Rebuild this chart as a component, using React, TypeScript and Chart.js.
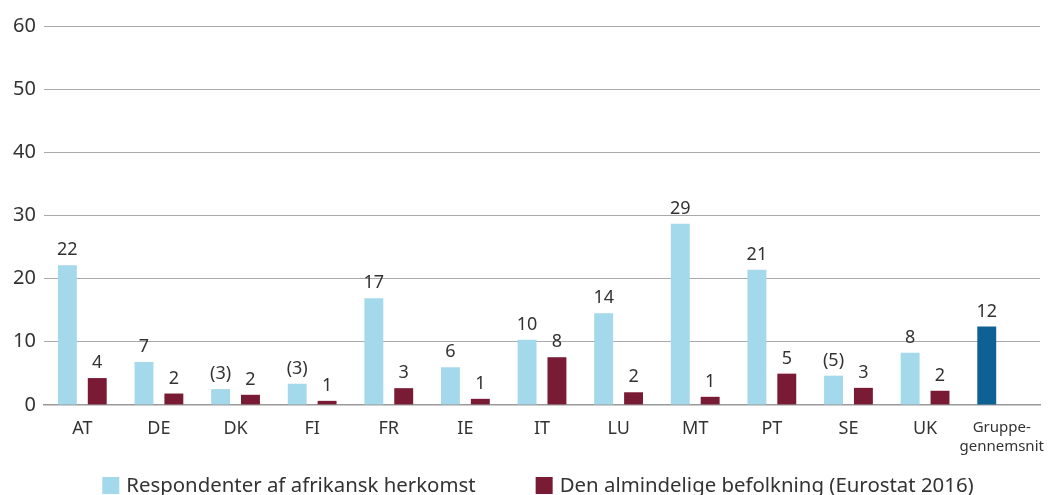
import React, { useEffect, useRef } from "react";
import { Chart, registerables } from "chart.js";

Chart.register(...registerables);

const categories: (string | string[])[] = ["AT", "DE", "DK", "FI", "FR", "IE", "IT", "LU", "MT", "PT", "SE", "UK", ["Gruppe-", "gennemsnit"]];
const africanValues = [22.1, 6.8, 2.5, 3.35, 16.9, 5.96, 10.3, 14.5, 28.7, 21.4, 4.63, 8.25, 12.4];
const africanLabels = ["22", "7", "(3)", "(3)", "17", "6", "10", "14", "29", "21", "(5)", "8", "12"];
const generalValues = [4.25, 1.8, 1.6, 0.64, 2.65, 0.96, 7.55, 2.0, 1.28, 4.95, 2.7, 2.24, null];
const generalLabels = ["4", "2", "2", "1", "3", "1", "8", "2", "1", "5", "3", "2", ""];
const seriesNames = ["Respondenter af afrikansk herkomst", "Den almindelige befolkning (Eurostat 2016)"];
const yTicks = [0, 10, 20, 30, 40, 50, 60];

const LIGHT_BLUE = "#a4d8eb";
const DARK_RED = "#7a1b35";
const DARK_BLUE = "#0d6193";
const TEXT = "#333";
const FONT = "'Noto Sans', 'Open Sans', sans-serif";
const legendColors = [LIGHT_BLUE, DARK_RED];

const valueLabelPlugin = {
  id: "valueLabels",
  afterDatasetsDraw(chart: any) {
    const ctx = chart.ctx;
    const labelSets = [africanLabels, generalLabels];
    ctx.save();
    ctx.font = `18px ${FONT}`;
    ctx.fillStyle = TEXT;
    ctx.textAlign = "center";
    ctx.textBaseline = "alphabetic";
    chart.data.datasets.forEach((ds: any, di: number) => {
      const meta = chart.getDatasetMeta(di);
      meta.data.forEach((bar: any, i: number) => {
        const txt = labelSets[di][i];
        if (!txt || ds.data[i] == null) return;
        ctx.fillText(txt, bar.x, bar.y - 10);
      });
    });
    ctx.restore();
  },
};

const bottomLegendPlugin = {
  id: "bottomLegend",
  afterDraw(chart: any) {
    const ctx = chart.ctx;
    const box = 17;
    const gapText = 7;
    const gapItems = 60;
    ctx.save();
    ctx.font = `20.4px ${FONT}`;
    const names = chart.data.datasets.map((d: any) => d.label as string);
    const widths = names.map((n: string) => ctx.measureText(n).width);
    const total = widths.reduce((a: number, w: number) => a + box + gapText + w, 0) + gapItems * (names.length - 1);
    const center = 538;
    let x = center - total / 2;
    const boxTop = 477;
    names.forEach((n: string, i: number) => {
      ctx.fillStyle = legendColors[i];
      ctx.fillRect(x, boxTop, box, box);
      ctx.fillStyle = TEXT;
      ctx.textAlign = "left";
      ctx.textBaseline = "alphabetic";
      ctx.fillText(n, x + box + gapText, boxTop + 14.5);
      x += box + gapText + widths[i] + gapItems;
    });
    ctx.restore();
  },
};

export default function App() {
  const canvasRef = useRef<HTMLCanvasElement | null>(null);

  useEffect(() => {
    if (!canvasRef.current) return;
    const blueColors = africanValues.map((_, i) => (i === africanValues.length - 1 ? DARK_BLUE : LIGHT_BLUE));
    const chart = new Chart(canvasRef.current, {
      type: "bar",
      data: {
        labels: categories,
        datasets: [
          {
            label: seriesNames[0],
            data: africanValues,
            backgroundColor: blueColors,
            categoryPercentage: 0.78,
            barPercentage: 0.633,
          },
          {
            label: seriesNames[1],
            data: generalValues,
            backgroundColor: DARK_RED,
            categoryPercentage: 0.78,
            barPercentage: 0.633,
          },
        ],
      },
      plugins: [valueLabelPlugin, bottomLegendPlugin],
      options: {
        responsive: false,
        animation: false,
        maintainAspectRatio: false,
        layout: { padding: { left: 8, right: 9, top: 26, bottom: 26 } },
        plugins: {
          tooltip: { enabled: false },
          legend: { display: false },
        },
        scales: {
          x: {
            grid: { display: false, drawTicks: false },
            border: { display: true, color: "#999", width: 1.5 },
            ticks: {
              color: TEXT,
              padding: 13,
              maxRotation: 0,
              autoSkip: false,
              font: (c: any) =>
                c.index === categories.length - 1
                  ? { family: FONT, size: 15, lineHeight: 1.27 }
                  : { family: FONT, size: 18 },
            },
            afterFit: (axis: any) => {
              axis.paddingRight = 0;
              axis.paddingLeft = 0;
            },
          },
          y: {
            min: 0,
            max: 60,
            afterBuildTicks: (axis: any) => {
              axis.ticks = yTicks.map((v) => ({ value: v }));
            },
            grid: { color: "#aaa", lineWidth: 1, drawTicks: false },
            border: { display: false },
            ticks: {
              color: TEXT,
              padding: 8,
              font: { family: FONT, size: 20 },
            },
            afterFit: (axis: any) => {
              axis.width = 36;
            },
          },
        },
      },
    });
    return () => chart.destroy();
  }, []);

  return (
    <div style={{ position: "absolute", left: 0, top: 0, width: 1049, height: 495, background: "#fff", overflow: "hidden" }}>
      <canvas ref={canvasRef} width={1049} height={495} style={{ width: 1049, height: 495 }} />
    </div>
  );
}
